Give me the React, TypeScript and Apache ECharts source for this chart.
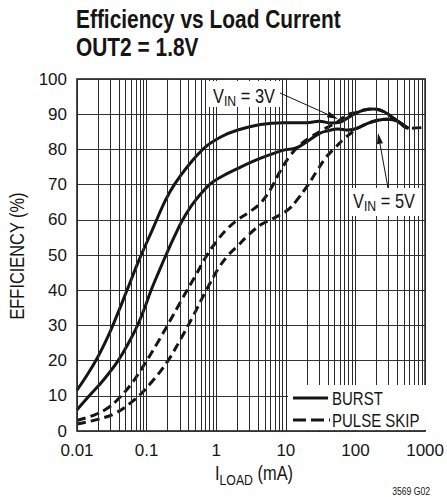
import React, { useEffect, useRef } from 'react';
import * as echarts from 'echarts';

const FONT = '"Liberation Sans", Arial, Helvetica, sans-serif';
const INK = '#151515';
const NARROW = 0.82;

const xTickLabels = ['0.01', '0.1', '1', '10', '100', '1000'];
const yTickLabels = ['0', '10', '20', '30', '40', '50', '60', '70', '80', '90', '100'];

// BURST, VIN = 3V
const burst3VLoad = [0.01, 0.0145, 0.02, 0.0278, 0.0385, 0.053, 0.078, 0.12, 0.186, 0.25, 0.4, 0.69, 1.18, 2.04, 4.35, 9.3, 20, 30, 45, 60, 75, 100, 134, 185, 257, 356, 490, 580];
const burst3VEff = [11.6, 16.4, 21.1, 26.8, 33.4, 40.3, 48.6, 57, 65.5, 70, 75.5, 80.6, 83.6, 85.5, 87.1, 87.6, 87.6, 88, 87.5, 87.7, 88.8, 90.2, 91.2, 91.5, 90.7, 88.8, 86.9, 86];

// BURST, VIN = 5V
const burst5VLoad = [0.01, 0.015, 0.024, 0.039, 0.055, 0.074, 0.095, 0.116, 0.15, 0.19, 0.25, 0.33, 0.48, 0.8, 1.2, 2.04, 4.35, 9.3, 14, 20, 30, 40, 56, 78, 106, 150, 210, 290, 400, 510, 580];
const burst5VEff = [6, 10, 14.5, 20, 25, 30, 35.3, 40, 45.3, 50, 55.2, 60, 65, 70, 72.3, 74.6, 77.5, 79.8, 80.4, 82.2, 84.5, 85.3, 85.8, 85.5, 86, 87.4, 88.3, 88.6, 88, 86.4, 86];

// PULSE SKIP, VIN = 3V
const skip3VLoad = [0.01, 0.018, 0.028, 0.04, 0.06, 0.09, 0.14, 0.21, 0.33, 0.5, 0.75, 1.1, 1.5, 2.04, 3.1, 4.35, 6, 8.4, 11.6, 16, 22, 34, 50, 70, 87, 100, 134, 185, 257, 356, 490, 580, 900];
const skip3VEff = [3, 4.6, 6.6, 9.3, 13.3, 18.5, 24.7, 30.8, 37.8, 44, 50.2, 54.8, 57.8, 60, 62.4, 64.8, 68.6, 74, 78.3, 81.3, 83.3, 85.6, 87.3, 89.3, 90.2, 90.4, 91.2, 91.5, 90.7, 88.8, 86.9, 86, 86.2];

// PULSE SKIP, VIN = 5V
const skip5VLoad = [0.01, 0.018, 0.035, 0.066, 0.11, 0.2, 0.3, 0.47, 0.72, 1.1, 1.5, 2.04, 2.8, 4.35, 6, 8.4, 11, 14.4, 20, 27.6, 38, 50, 70, 97, 106, 150, 210, 290, 400, 510, 580];
const skip5VEff = [2, 3.1, 5, 8.8, 13.2, 19.8, 25.7, 32.8, 40, 46.5, 50, 52.6, 55.4, 58.6, 60, 61.5, 63, 65.6, 69.4, 73.7, 77.8, 80.3, 83.2, 85.4, 86, 87.4, 88.3, 88.6, 88, 86.4, 86];

const legendItems = ['BURST', 'PULSE SKIP'];
const decades = [0.01, 0.1, 1, 10, 100];
const multipliers = [1, 2, 3, 4, 5, 6, 7, 8, 9];

function zip(xs: number[], ys: number[]) {
  return xs.map((x, i) => [x, ys[i]]);
}

function arrow(x1: number, y1: number, x2: number, y2: number) {
  const dx = x2 - x1;
  const dy = y2 - y1;
  const len = Math.sqrt(dx * dx + dy * dy);
  const ux = dx / len;
  const uy = dy / len;
  const hl = 11;
  const hw = 3;
  const bx = x2 - ux * hl;
  const by = y2 - uy * hl;
  return [
    { type: 'line', z: 100, shape: { x1, y1, x2: bx, y2: by }, style: { stroke: INK, lineWidth: 1 } },
    {
      type: 'polygon',
      z: 100,
      shape: { points: [[x2, y2], [bx - uy * hw, by + ux * hw], [bx + uy * hw, by - ux * hw]] },
      style: { fill: INK },
    },
  ];
}

function narrowText(x: number, y: number, text: string, size: number, extra: any = {}) {
  return {
    type: 'text',
    z: 101,
    x,
    y,
    scaleX: NARROW,
    ...extra,
    style: { text, fontFamily: FONT, fontSize: size, fill: INK, verticalAlign: 'middle', align: 'left', ...(extra.style || {}) },
  };
}

function vinLabel(x: number, y: number, text: string) {
  return {
    type: 'text',
    z: 101,
    x,
    y,
    scaleX: NARROW,
    style: {
      text: `{v|V}{s|IN}{v| = ${text}}`,
      verticalAlign: 'middle',
      align: 'left',
      rich: {
        v: { fontSize: 20, fontFamily: FONT, fill: INK, lineHeight: 26, verticalAlign: 'middle' },
        s: { fontSize: 15, fontFamily: FONT, fill: INK, lineHeight: 16, verticalAlign: 'bottom' },
      },
    },
  };
}

export default function App() {
  const ref = useRef<HTMLDivElement>(null);

  useEffect(() => {
    const chart = echarts.init(ref.current!, null, { renderer: 'svg' });

    const gridX: number[] = [];
    decades.forEach((d) => multipliers.forEach((m) => gridX.push(m * d)));
    gridX.push(1000);

    const curve = (data: number[][], dashed: boolean) => ({
      type: 'line',
      data,
      showSymbol: false,
      smooth: 0.4,
      z: 3,
      lineStyle: { color: INK, width: 3, type: dashed ? [9, 5] : 'solid' },
      silent: true,
    });

    const option: any = {
      animation: false,
      backgroundColor: '#fff',
      grid: {
        left: 77,
        top: 79,
        right: 17,
        bottom: 66,
        show: true,
        borderColor: INK,
        borderWidth: 1.5,
        backgroundColor: 'transparent',
      },
      xAxis: {
        type: 'log',
        logBase: 10,
        min: 0.01,
        max: 1000,
        splitNumber: 5,
        axisLine: { show: false },
        axisTick: { show: false },
        splitLine: { show: false },
        axisLabel: {
          fontFamily: FONT,
          fontSize: 17,
          lineHeight: 14,
          color: INK,
          margin: 12,
          showMinLabel: true,
          showMaxLabel: true,
          formatter: (v: number) => xTickLabels[Math.round(Math.log10(v)) + 2] ?? '',
        },
      },
      yAxis: {
        type: 'value',
        min: 0,
        max: 100,
        interval: 10,
        axisLine: { show: false },
        axisTick: { show: false },
        splitLine: { show: true, lineStyle: { color: '#333', width: 1 } },
        axisLabel: {
          fontFamily: FONT,
          fontSize: 17,
          lineHeight: 14,
          color: INK,
          margin: 10,
          formatter: (v: number) => yTickLabels[Math.round(v / 10)] ?? '',
        },
      },
      series: [
        {
          type: 'line',
          data: [],
          z: 1,
          silent: true,
          markLine: {
            silent: true,
            symbol: ['none', 'none'],
            label: { show: false },
            lineStyle: { color: '#2a2a2a', width: 1, type: 'solid' },
            emphasis: { disabled: true },
            data: gridX.map((v) => ({ xAxis: v })),
          },
        },
        curve(zip(burst3VLoad, burst3VEff), false),
        curve(zip(burst5VLoad, burst5VEff), false),
        curve(zip(skip3VLoad, skip3VEff), true),
        curve(zip(skip5VLoad, skip5VEff), true),
      ],
      graphic: [
        // title
        narrowText(76, 19.5, 'Efficiency vs Load Current', 25.5, { style: { fontWeight: 'bold' } }),
        narrowText(76, 47, 'OUT2 = 1.8V', 25.5, { style: { fontWeight: 'bold' } }),
        // axis names
        narrowText(17, 256, 'EFFICIENCY (%)', 20, { rotation: Math.PI / 2, style: { align: 'center' } }),
        {
          type: 'text',
          z: 101,
          x: 254,
          y: 473,
          scaleX: NARROW,
          style: {
            text: '{i|I}{s|LOAD}{i| (mA)}',
            align: 'center',
            verticalAlign: 'middle',
            rich: {
              i: { fontFamily: FONT, fontSize: 20, fill: INK, lineHeight: 30, verticalAlign: 'middle' },
              s: { fontFamily: FONT, fontSize: 15, fill: INK, lineHeight: 16, verticalAlign: 'bottom' },
            },
          },
        },
        // legend
        { type: 'rect', z: 99, shape: { x: 288, y: 385, width: 141, height: 45 }, style: { fill: '#fff' } },
        { type: 'line', z: 100, shape: { x1: 293, y1: 398, x2: 328, y2: 398 }, style: { stroke: INK, lineWidth: 3 } },
        narrowText(332, 398.5, legendItems[0], 18.3),
        { type: 'line', z: 100, shape: { x1: 293, y1: 420, x2: 330, y2: 420 }, style: { stroke: INK, lineWidth: 3, lineDash: [13, 5] } },
        narrowText(332, 420.5, legendItems[1], 18.3),
        // VIN = 3V annotation
        { type: 'rect', z: 99, shape: { x: 209, y: 81, width: 71, height: 26 }, style: { fill: '#fff' } },
        vinLabel(213, 95.5, '3V'),
        ...arrow(280, 93, 338, 119),
        // VIN = 5V annotation
        { type: 'rect', z: 99, shape: { x: 350, y: 188, width: 70, height: 28 }, style: { fill: '#fff' } },
        vinLabel(353, 200.5, '5V'),
        ...arrow(388, 188, 378, 133),
        // figure id
        narrowText(430, 491.5, '3569 G02', 10.5, { style: { align: 'right' } }),
      ],
    };

    chart.setOption(option);
    return () => chart.dispose();
  }, []);

  return (
    <div
      ref={ref}
      style={{ position: 'absolute', left: 0, top: 0, width: 447, height: 497, background: '#fff' }}
    />
  );
}
